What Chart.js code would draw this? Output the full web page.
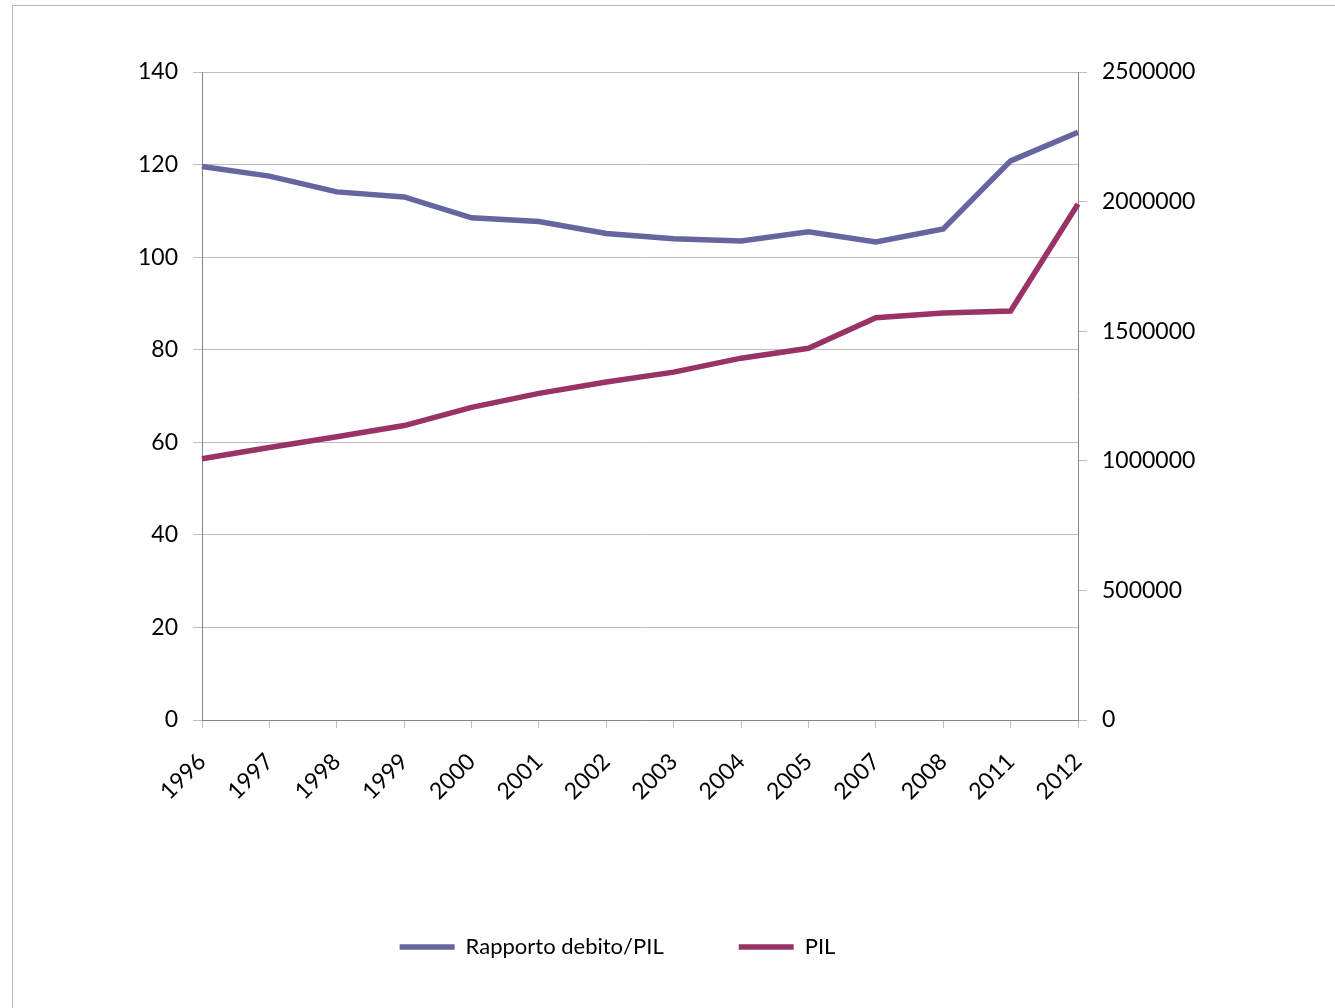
<!DOCTYPE html>
<html>
<head>
<meta charset="utf-8">
<script src="https://cdn.jsdelivr.net/npm/chart.js@4/dist/chart.umd.min.js"></script>
<style>
    html, body { margin: 0; padding: 0; background: #fff; overflow: hidden; }
    #frame {
        position: absolute; left: 12px; top: 5px; width: 1400px; height: 1100px;
        border-top: 1px solid #b8b8b8; border-left: 1px solid #b8b8b8;
    }
    #wrap { position: absolute; left: 0; top: 0; width: 1335px; height: 1008px; }
</style>
</head>
<body>
<div id="frame"></div>
<div id="wrap"><canvas id="debtChart" width="1335" height="1008"></canvas></div>
<script>
// Data
const years = ['1996', '1997', '1998', '1999', '2000', '2001', '2002', '2003', '2004', '2005', '2007', '2008', '2011', '2012'];
const debtRatio = [119.6, 117.5, 114.1, 113.0, 108.5, 107.7, 105.1, 104.0, 103.5, 105.5, 103.3, 106.1, 120.8, 127.0];
const pil = [1008000, 1051000, 1093000, 1136000, 1206000, 1260000, 1304000, 1342000, 1396000, 1434000, 1552000, 1570000, 1578000, 1991000];
const leftTicks = [0, 20, 40, 60, 80, 100, 120, 140];
const rightTicks = [0, 500000, 1000000, 1500000, 2000000, 2500000];

const FONT = 'Lato';
const axisColor = '#868686';
const gridColor = '#bdbdbd';

const ctx = document.getElementById('debtChart').getContext('2d');

new Chart(ctx, {
    type: 'line',
    data: {
        labels: years,
        datasets: [
            {
                label: 'Rapporto debito/PIL',
                data: debtRatio,
                yAxisID: 'y',
                borderColor: '#65659f',
                backgroundColor: '#65659f',
                borderWidth: 5.5,
                pointRadius: 0,
                tension: 0
            },
            {
                label: 'PIL',
                data: pil,
                yAxisID: 'y1',
                borderColor: '#993366',
                backgroundColor: '#993366',
                borderWidth: 5.5,
                pointRadius: 0,
                tension: 0
            }
        ]
    },
    options: {
        responsive: false,
        animation: false,
        devicePixelRatio: 1,
        layout: {
            padding: { top: 72, left: 0, right: 100, bottom: 40 }
        },
        plugins: {
            tooltip: { enabled: false },
            legend: {
                display: true,
                position: 'bottom',
                labels: {
                    color: '#000',
                    font: { family: FONT, size: 22 },
                    usePointStyle: true,
                    pointStyle: 'line',
                    pointStyleWidth: 55,
                    padding: 75
                }
            }
        },
        scales: {
            x: {
                offset: false,
                border: { color: axisColor, width: 1 },
                grid: {
                    drawOnChartArea: false,
                    drawTicks: true,
                    tickLength: 8,
                    tickColor: gridColor
                },
                ticks: {
                    color: '#000',
                    font: { family: FONT, size: 23 },
                    maxRotation: 45,
                    minRotation: 45,
                    autoSkip: false,
                    padding: 20
                },
                afterFit: function (scale) {
                    scale.height = 141;
                }
            },
            y: {
                position: 'left',
                min: 0,
                max: 140,
                border: { color: axisColor, width: 1 },
                grid: {
                    color: gridColor,
                    tickLength: 9,
                    tickColor: gridColor
                },
                afterBuildTicks: function (scale) {
                    scale.ticks = leftTicks.map(v => ({ value: v }));
                },
                ticks: {
                    color: '#000',
                    font: { family: FONT, size: 23 },
                    padding: 15
                },
                afterFit: function (scale) {
                    scale.width = 202;
                }
            },
            y1: {
                position: 'right',
                min: 0,
                max: 2500000,
                border: { color: axisColor, width: 1 },
                grid: {
                    drawOnChartArea: false,
                    tickLength: 9,
                    tickColor: gridColor
                },
                afterBuildTicks: function (scale) {
                    scale.ticks = rightTicks.map(v => ({ value: v }));
                },
                ticks: {
                    color: '#000',
                    font: { family: FONT, size: 23 },
                    padding: 15,
                    callback: function (value) {
                        return String(value);
                    }
                },
                afterFit: function (scale) {
                    scale.width = 157;
                }
            }
        }
    }
});
</script>
</body>
</html>
